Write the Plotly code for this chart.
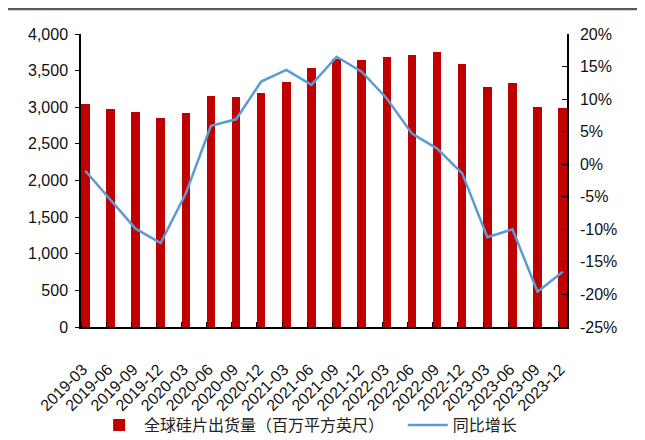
import plotly.graph_objects as go

categories = ["2019-03", "2019-06", "2019-09", "2019-12", "2020-03", "2020-06", "2020-09", "2020-12",
              "2021-03", "2021-06", "2021-09", "2021-12", "2022-03", "2022-06", "2022-09", "2022-12",
              "2023-03", "2023-06", "2023-09", "2023-12"]
shipments = [3050, 2980, 2935, 2850, 2920, 3150, 3140, 3190, 3340, 3530, 3655, 3650, 3680, 3710,
             3750, 3590, 3270, 3330, 3005, 2990]
yoy = [-1.0, -5.5, -9.9, -12.1, -4.5, 5.9, 6.9, 12.7, 14.5, 12.2, 16.5, 14.2, 10.1, 4.7, 2.4,
       -1.4, -11.2, -10.0, -19.6, -16.5]
left_ticks = [0, 500, 1000, 1500, 2000, 2500, 3000, 3500, 4000]
right_ticks = [-25, -20, -15, -10, -5, 0, 5, 10, 15, 20]
right_labels = [f"{v}%" for v in right_ticks]

BAR_W = 0.34
LABEL_SHIFT = -0.1
xs = list(range(len(categories)))

FONT = "Liberation Sans, Arial, Noto Sans CJK SC, sans-serif"
CJK = "Noto Sans CJK SC, Microsoft YaHei, sans-serif"

fig = go.Figure()
fig.add_trace(go.Bar(x=xs, y=shipments, width=BAR_W, marker=dict(color="#C00000", line=dict(width=0)),
                     name="全球硅片出货量（百万平方英尺）", legend="legend"))
fig.add_trace(go.Scatter(x=xs, y=yoy, yaxis="y2", mode="lines", line=dict(color="#5B9BD5", width=2.5),
                         name="同比增长", legend="legend2"))

leg_common = dict(orientation="h", xanchor="left", y=-0.335, yanchor="middle",
                  font=dict(family=CJK, size=16, color="#222"), itemwidth=40,
                  bgcolor="rgba(0,0,0,0)")

# page body has an 8px margin: size the figure so the plot area lands where the reference has it
fig.update_layout(
    width=637, height=432,
    margin=dict(l=73, r=78, t=26, b=113, autoexpand=False),
    paper_bgcolor="white", plot_bgcolor="white",
    font=dict(family=FONT, size=16, color="#111"),
    showlegend=True,
    legend=dict(x=0.027, **leg_common),
    legend2=dict(x=0.662, **leg_common),
    xaxis=dict(range=[-BAR_W / 2, len(categories) - 1 + BAR_W / 2], automargin=False,
               tickmode="array", tickvals=[x + LABEL_SHIFT for x in xs], ticktext=categories,
               tickangle=-45, ticks="", showline=True, linecolor="black", linewidth=1.5,
               showgrid=False, zeroline=False, ticklabelstandoff=25,
               minor=dict(tickmode="array", tickvals=[x - BAR_W / 2 for x in xs], ticks="inside",
                          ticklen=5, tickcolor="black", tickwidth=1, showgrid=False)),
    yaxis=dict(range=[0, 4000], tickmode="array", tickvals=left_ticks, tickformat=",", automargin=False,
               ticks="outside", ticklen=4, tickcolor="black", showline=True, linecolor="black",
               linewidth=1.5, showgrid=False, zeroline=False, ticklabelstandoff=4),
    yaxis2=dict(range=[-25, 20], overlaying="y", side="right", tickmode="array", automargin=False,
                tickvals=right_ticks, ticktext=right_labels, ticks="inside", ticklen=5, tickcolor="black",
                showline=True, linecolor="black", linewidth=1.5, showgrid=False, zeroline=False,
                ticklabelstandoff=8),
    bargap=0,
)

fig.add_shape(type="line", xref="paper", yref="paper", x0=-80 / 486, x1=560 / 486,
              y0=(293 + 25) / 293, y1=(293 + 25) / 293, line=dict(color="#5a5a5a", width=2.5))

fig.write_html("out.html")
